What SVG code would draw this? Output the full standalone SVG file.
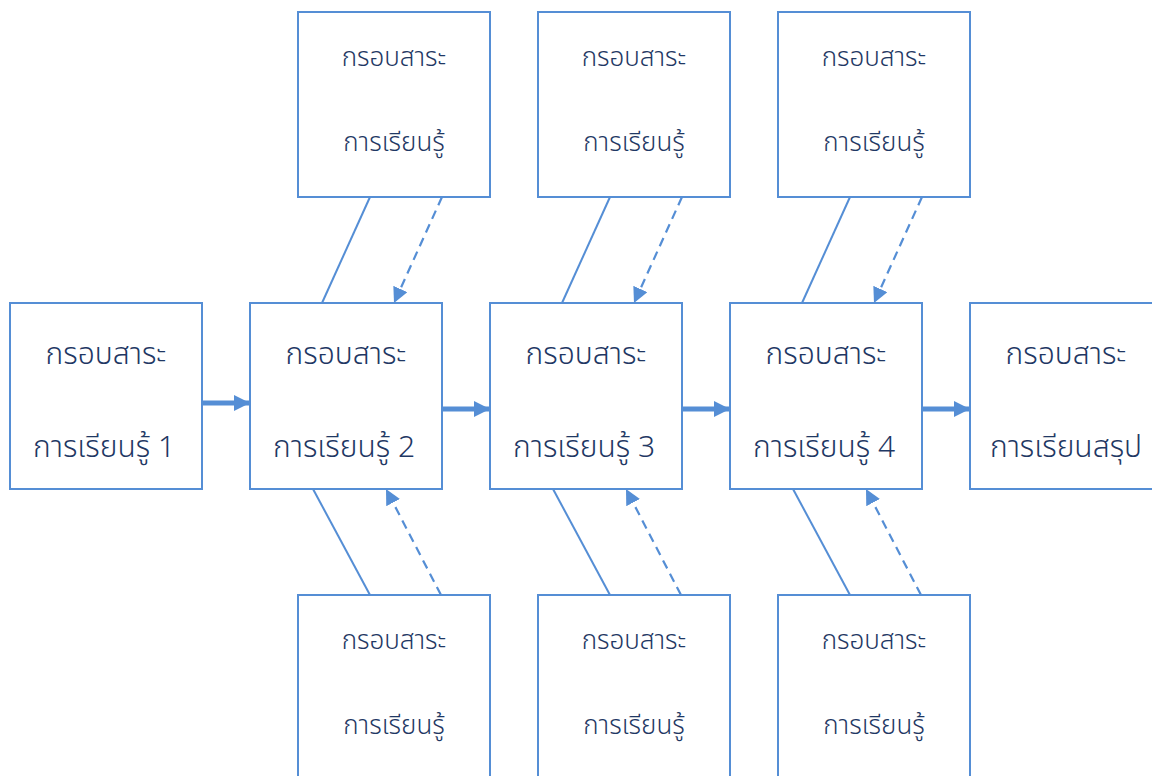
<svg xmlns="http://www.w3.org/2000/svg" width="1152" height="776" viewBox="0 0 1152 776">
<defs>
<style>
.box{fill:#fff;stroke:#558ed5;stroke-width:2}
.t{font-family:"Noto Sans Thai","Noto Sans","DejaVu Sans",sans-serif;fill:#1f3864;text-anchor:middle;font-weight:300}
.tm{font-size:30px}
.ts{font-size:26px}
.solid{stroke:#558ed5;stroke-width:2;fill:none}
.dash{stroke:#558ed5;stroke-width:2.2;fill:none;stroke-dasharray:9 6;marker-end:url(#ah)}
.thick{stroke:#558ed5;stroke-width:5;fill:none;marker-end:url(#ahb)}
</style>
<marker id="ah" viewBox="0 0 10 10" refX="10" refY="5" markerWidth="7" markerHeight="7" markerUnits="strokeWidth" orient="auto"><path d="M0,0 L10,5 L0,10 z" fill="#558ed5"/></marker>
<marker id="ahb" viewBox="0 0 10 10" refX="10" refY="5" markerWidth="3.6" markerHeight="3.2" markerUnits="strokeWidth" orient="auto"><path d="M0,0 L10,5 L0,10 z" fill="#558ed5"/></marker>
</defs>
<g id="connectors">
<line class="thick" x1="202" y1="403" x2="250" y2="403"/>
<line class="thick" x1="442" y1="409" x2="490" y2="409"/>
<line class="thick" x1="682" y1="409" x2="730" y2="409"/>
<line class="thick" x1="922" y1="409" x2="970" y2="409"/>
<line class="solid" x1="370" y1="197" x2="322" y2="303"/>
<line class="dash" x1="442" y1="197" x2="394" y2="303"/>
<line class="solid" x1="313" y1="489" x2="370" y2="595"/>
<line class="dash" x1="441" y1="595" x2="386" y2="489"/>
<line class="solid" x1="610" y1="197" x2="562" y2="303"/>
<line class="dash" x1="682" y1="197" x2="634" y2="303"/>
<line class="solid" x1="553" y1="489" x2="610" y2="595"/>
<line class="dash" x1="681" y1="595" x2="626" y2="489"/>
<line class="solid" x1="850" y1="197" x2="802" y2="303"/>
<line class="dash" x1="922" y1="197" x2="874" y2="303"/>
<line class="solid" x1="793" y1="489" x2="850" y2="595"/>
<line class="dash" x1="921" y1="595" x2="866" y2="489"/>
</g>
<g id="m1"><rect class="box" x="10" y="303" width="192" height="186"/><text class="t tm" x="106" y="364">กรอบสาระ</text><text class="t tm" x="104" y="457">การเรียนรู้ 1</text></g>
<g id="m2"><rect class="box" x="250" y="303" width="192" height="186"/><text class="t tm" x="346" y="364">กรอบสาระ</text><text class="t tm" x="344" y="457">การเรียนรู้ 2</text></g>
<g id="m3"><rect class="box" x="490" y="303" width="192" height="186"/><text class="t tm" x="586" y="364">กรอบสาระ</text><text class="t tm" x="584" y="457">การเรียนรู้ 3</text></g>
<g id="m4"><rect class="box" x="730" y="303" width="192" height="186"/><text class="t tm" x="826" y="364">กรอบสาระ</text><text class="t tm" x="824" y="457">การเรียนรู้ 4</text></g>
<g id="m5"><rect class="box" x="970" y="303" width="192" height="186"/><text class="t tm" x="1066" y="364">กรอบสาระ</text><text class="t tm" x="1066" y="457">การเรียนสรุป</text></g>
<g id="t1"><rect class="box" x="298" y="12" width="192" height="185"/><text class="t ts" x="394" y="66">กรอบสาระ</text><text class="t ts" x="394" y="151">การเรียนรู้</text></g>
<g id="t2"><rect class="box" x="538" y="12" width="192" height="185"/><text class="t ts" x="634" y="66">กรอบสาระ</text><text class="t ts" x="634" y="151">การเรียนรู้</text></g>
<g id="t3"><rect class="box" x="778" y="12" width="192" height="185"/><text class="t ts" x="874" y="66">กรอบสาระ</text><text class="t ts" x="874" y="151">การเรียนรู้</text></g>
<g id="b1"><rect class="box" x="298" y="595" width="192" height="190"/><text class="t ts" x="394" y="649">กรอบสาระ</text><text class="t ts" x="394" y="734">การเรียนรู้</text></g>
<g id="b2"><rect class="box" x="538" y="595" width="192" height="190"/><text class="t ts" x="634" y="649">กรอบสาระ</text><text class="t ts" x="634" y="734">การเรียนรู้</text></g>
<g id="b3"><rect class="box" x="778" y="595" width="192" height="190"/><text class="t ts" x="874" y="649">กรอบสาระ</text><text class="t ts" x="874" y="734">การเรียนรู้</text></g>
</svg>
